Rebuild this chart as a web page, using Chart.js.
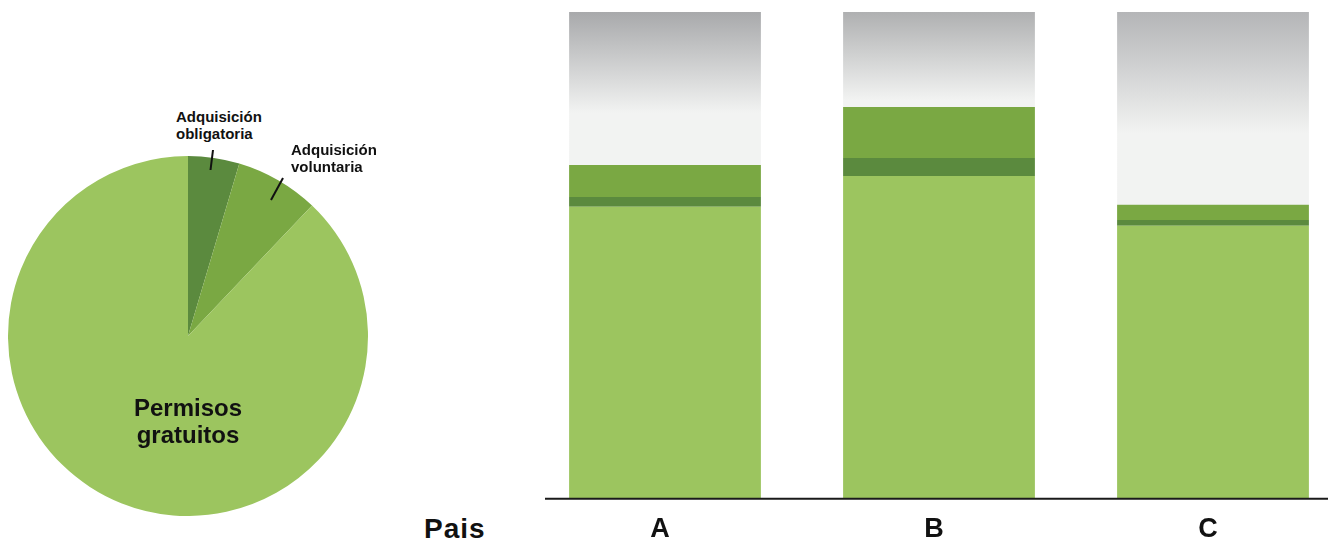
<!DOCTYPE html>
<html lang="es">
<head>
<meta charset="utf-8">
<title>Permisos por país</title>
<script src="https://cdn.jsdelivr.net/npm/chart.js@4.4.1/dist/chart.umd.min.js"></script>
<style>
  html, body {
    margin: 0;
    padding: 0;
    width: 1328px;
    height: 543px;
    overflow: hidden;
    background: #fff;
    font-family: "Liberation Sans", Arial, sans-serif;
  }
  .box { position: absolute; }
  .pie-box { left: 8px; top: 156px; width: 360px; height: 360px; }
  .bar-box { left: 528px; top: 0; width: 822px; height: 543px; }
  .lbl {
    position: absolute;
    font-weight: bold;
    color: #111;
    white-space: nowrap;
  }
  .small { font-size: 15px; line-height: 16.5px; }
  .big { font-size: 24px; line-height: 27px; text-align: center; }
  .axis-title { font-size: 28px; line-height: 27px; letter-spacing: 1px; }
  svg.leaders { position: absolute; left: 0; top: 0; }
</style>
</head>
<body>

<div class="box pie-box"><canvas id="pieChart"></canvas></div>
<div class="box bar-box"><canvas id="barChart"></canvas></div>

<div class="lbl small" style="left:176px; top:109px;">Adquisición<br>obligatoria</div>
<div class="lbl small" style="left:291px; top:142px;">Adquisición<br>voluntaria</div>
<div class="lbl big" style="left:108px; top:394px; width:160px;">Permisos<br>gratuitos</div>
<div class="lbl axis-title" style="left:424px; top:515px;">Pais</div>

<svg class="leaders" width="400" height="260">
  <line x1="213" y1="150" x2="210.5" y2="170" stroke="#111" stroke-width="2"/>
  <line x1="283" y1="178" x2="271" y2="200" stroke="#111" stroke-width="2"/>
</svg>

<script>
/* ---------- data ---------- */
const pieLabels = ['Adquisición obligatoria', 'Adquisición voluntaria', 'Permisos gratuitos'];
const pieValues = [4.6, 7.5, 87.9];

const countries = ['A', 'B', 'C'];
const gratuitos = [60.0, 66.3, 56.1];
const obligatoria = [2.0, 3.7, 1.2];
const voluntaria = [6.6, 10.5, 3.1];
const restante = [31.4, 19.5, 39.6];

/* ---------- styles ---------- */
const LIGHT = '#9cc55f';
const DARK = '#5b8a3e';
const MID = '#7aa843';
const grayTop = ['#a8a9ab', '#afb0b1', '#b4b5b7'];
const grayFade = [0.66, 0.93, 0.63];
const GRAY_END = '#f2f3f2';

/* ---------- pie ---------- */
new Chart(document.getElementById('pieChart'), {
  type: 'pie',
  data: {
    labels: pieLabels,
    datasets: [{
      data: pieValues,
      backgroundColor: [DARK, MID, LIGHT],
      borderWidth: 0
    }]
  },
  options: {
    responsive: true,
    maintainAspectRatio: false,
    animation: false,
    layout: { padding: 0 },
    plugins: { legend: { display: false }, tooltip: { enabled: false } }
  }
});

/* ---------- bars ---------- */

// gray top segment: vertical gradient per bar
function grayGradient(ctx) {
  const chart = ctx.chart;
  if (!chart.chartArea) return GRAY_END;
  const y = chart.scales.y;
  const i = ctx.dataIndex;
  const below = gratuitos[i] + obligatoria[i] + voluntaria[i];
  const top = y.getPixelForValue(below + restante[i]);
  const bottom = y.getPixelForValue(below);
  const g = chart.ctx.createLinearGradient(0, top, 0, bottom);
  g.addColorStop(0, grayTop[i]);
  g.addColorStop(grayFade[i], GRAY_END);
  g.addColorStop(1, GRAY_END);
  return g;
}

// baseline drawn from the left of the first bar area to the page edge
const baseLine = {
  id: 'baseLine',
  afterDatasetsDraw(chart) {
    const c = chart.ctx;
    const yPix = chart.chartArea.bottom - 0.3;
    c.save();
    c.strokeStyle = '#1a1a1a';
    c.lineWidth = 2;
    c.beginPath();
    c.moveTo(17, yPix);
    c.lineTo(chart.width, yPix);
    c.stroke();
    c.restore();
  }
};

const barCommon = { barPercentage: 0.7, categoryPercentage: 1, borderWidth: 0 };

new Chart(document.getElementById('barChart'), {
  type: 'bar',
  data: {
    labels: countries,
    datasets: [
      { label: 'Permisos gratuitos', data: gratuitos, backgroundColor: LIGHT, ...barCommon },
      { label: 'Adquisición obligatoria', data: obligatoria, backgroundColor: DARK, ...barCommon },
      { label: 'Adquisición voluntaria', data: voluntaria, backgroundColor: MID, ...barCommon },
      { label: 'Resto', data: restante, backgroundColor: grayGradient, ...barCommon }
    ]
  },
  options: {
    responsive: true,
    maintainAspectRatio: false,
    animation: false,
    layout: { padding: { top: 12, left: 0, right: 0, bottom: 0 } },
    plugins: { legend: { display: false }, tooltip: { enabled: false } },
    scales: {
      x: {
        stacked: true,
        grid: { display: false, drawTicks: false },
        border: { display: false },
        ticks: {
          color: '#111',
          padding: 14,
          labelOffset: -5,
          font: { family: '"Liberation Sans", Arial, sans-serif', size: 27, weight: 'bold' }
        },
        afterFit(scale) { scale.height = 44; }
      },
      y: {
        stacked: true,
        display: false,
        min: 0,
        max: 100
      }
    }
  },
  plugins: [baseLine]
});
</script>
</body>
</html>
